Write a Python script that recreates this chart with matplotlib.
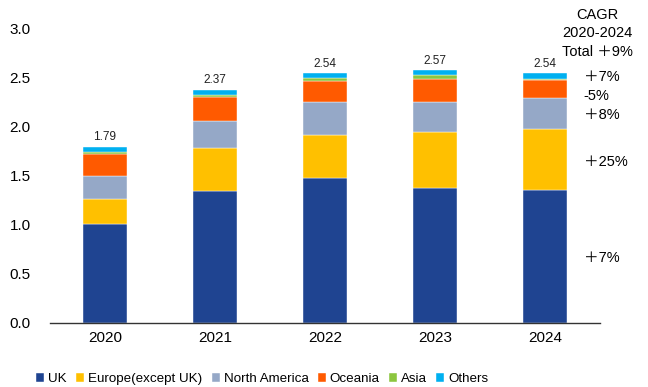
import numpy as np
import matplotlib.pyplot as plt

plt.rcParams['font.family'] = ['Liberation Sans', 'Noto Sans CJK JP', 'DejaVu Sans']

# data
years = ['2020', '2021', '2022', '2023', '2024']
regions = ['UK', 'Europe(except UK)', 'North America', 'Oceania', 'Asia', 'Others']
uk = [1.01, 1.34, 1.47, 1.375, 1.35]
europe = [0.25, 0.445, 0.44, 0.57, 0.62]
north_america = [0.23, 0.275, 0.335, 0.305, 0.32]
oceania = [0.23, 0.245, 0.22, 0.23, 0.18]
asia = [0.015, 0.017, 0.027, 0.04, 0.015]
others = [0.055, 0.048, 0.048, 0.05, 0.055]
totals = ['1.79', '2.37', '2.54', '2.57', '2.54']
cagr_labels = ['＋7%', '＋25%', '＋8%', '-5%', '＋7%']
cagr_y = [0.66, 1.64, 2.12, 2.31, 2.5]

colors = ['#1F4491', '#FFC000', '#95A8C7', '#FF5A00', '#8CC63F', '#00B0F0']
series = [uk, europe, north_america, oceania, asia, others]

fig = plt.figure(figsize=(6.48, 3.87), dpi=100)
ax = fig.add_axes([50 / 648, 64.3 / 387, 550 / 648, 294.4 / 387])

x = np.arange(len(years))
bottom = np.zeros(len(years))
for vals, col, name in zip(series, colors, regions):
    ax.bar(x, vals, width=0.4, bottom=bottom, color=col, label=name,
           edgecolor='white', linewidth=0.3)
    bottom += np.array(vals)

for xi, top, lab in zip(x, bottom, totals):
    ax.text(xi, top + 0.04, lab, ha='center', va='bottom', fontsize=8.5, color='#222222')

ax.set_xlim(-0.5, 4.5)
ax.set_ylim(0, 3.0)
ax.set_yticks(np.arange(0, 3.01, 0.5))
ax.set_yticklabels([f'{v:.1f}' for v in np.arange(0, 3.01, 0.5)])
ax.set_xticks(x)
ax.set_xticklabels(years)
ax.tick_params(axis='both', length=0, labelsize=11)
ax.tick_params(axis='y', pad=14)
ax.tick_params(axis='x', pad=6)
for s in ['top', 'right', 'left']:
    ax.spines[s].set_visible(False)
ax.spines['bottom'].set_linewidth(1.0)
ax.spines['bottom'].set_color('#333333')

# CAGR notes on the right
fig.text(597 / 648, 1 - 15 / 387, 'CAGR', ha='center', va='center', fontsize=10.5)
fig.text(597 / 648, 1 - 33 / 387, '2020-2024', ha='center', va='center', fontsize=10.5)
fig.text(597 / 648, 1 - 52 / 387, 'Total ＋9%', ha='center', va='center', fontsize=10.5)
for lab, yv in zip(cagr_labels, cagr_y):
    ax.text(4.35, yv, lab, ha='left', va='center', fontsize=10.5)

ax.legend(loc='center left', bbox_to_anchor=(28 / 648, 1 - 379 / 387), bbox_transform=fig.transFigure,
          ncol=6, frameon=False, fontsize=9.6, handlelength=0.6, handleheight=0.6,
          handletextpad=0.3, columnspacing=0.7, borderpad=0.1)

plt.savefig('out.png', dpi=100)
